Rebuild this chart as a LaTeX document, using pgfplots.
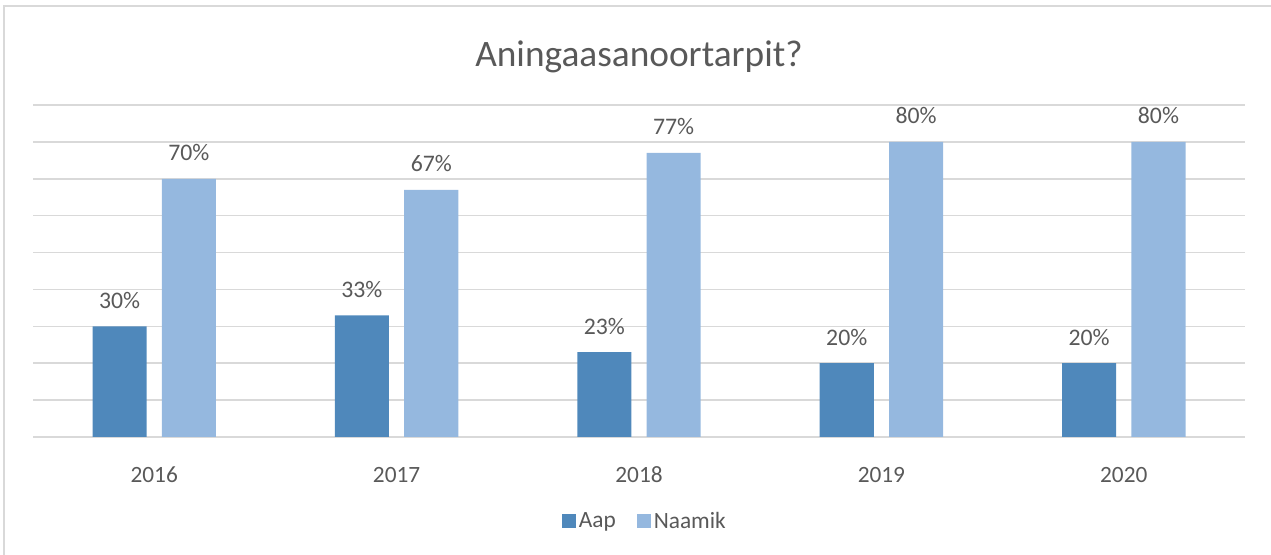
\documentclass[border=0pt]{standalone}
\usepackage{pgfplots}
\pgfplotsset{compat=1.18}
\usepackage{fontspec}
\setmainfont{Carlito}
\definecolor{darkbar}{HTML}{4F88BB}
\definecolor{lightbar}{HTML}{95B8DF}
\definecolor{txt}{HTML}{595959}
\definecolor{gridc}{HTML}{D9D9D9}
\definecolor{framec}{HTML}{D9D9D9}
\begin{document}
\begin{tikzpicture}
\begin{axis}[
  at={(0,0)}, anchor=south west,
  scale only axis,
  width=909pt, height=249pt,
  xmin=-0.5, xmax=4.5, ymin=0, ymax=90,
  ytick={0,10,...,90}, yticklabels={},
  ymajorgrids=true, xmajorgrids=false,
  major grid style={draw=gridc, line width=1.1pt},
  axis line style={draw=none},
  major tick style={draw=none},
  /pgf/number format/assume math mode=true,
  xtick={0,1,2,3,4},
  xticklabels={2016,2017,2018,2019,2020},
  xticklabel style={anchor=base, inner sep=0pt, yshift=-30pt, font=\fontsize{17.5}{20}\selectfont, text=txt},
  ybar, bar width=0.223,
  nodes near coords={\pgfmathprintnumber{\pgfplotspointmeta}\%},
  every node near coord/.append style={anchor=base, inner sep=0pt, yshift=13.5pt, font=\fontsize{17.8}{20}\selectfont, text=txt},
  legend style={draw=none, at={(0.5052,-0.2545)}, anchor=center, font=\fontsize{17.5}{20}\selectfont, text=txt, legend columns=2, /tikz/every even column/.append style={column sep=14pt}},
  legend image code/.code={\fill[#1] (0pt,-5.25pt) rectangle (10.5pt,5.25pt);},
  clip=false,
]
\addplot[fill=darkbar, draw=none, bar shift=-0.143] coordinates {(0,30) (1,33) (2,23) (3,20) (4,20)};
\addplot[fill=lightbar, draw=none, bar shift=0.143] coordinates {(0,70) (1,67) (2,77) (3,80) (4,80)};
\legend{Aap, Naamik}
\end{axis}
\begin{scope}[shift={(-24.75pt,327.75pt)}, x=0.75pt, y=-0.75pt]
\node[anchor=base, inner sep=0pt, text=txt, font=\fontsize{28}{33}\selectfont] at (639,66.7) {Aningaasanoortarpit?};
\draw[framec, line width=1.2pt] (4,556) -- (4,6) -- (1272,6);
\pgfresetboundingbox
\path (0,0) rectangle (1271,555);
\end{scope}
\end{tikzpicture}
\end{document}
